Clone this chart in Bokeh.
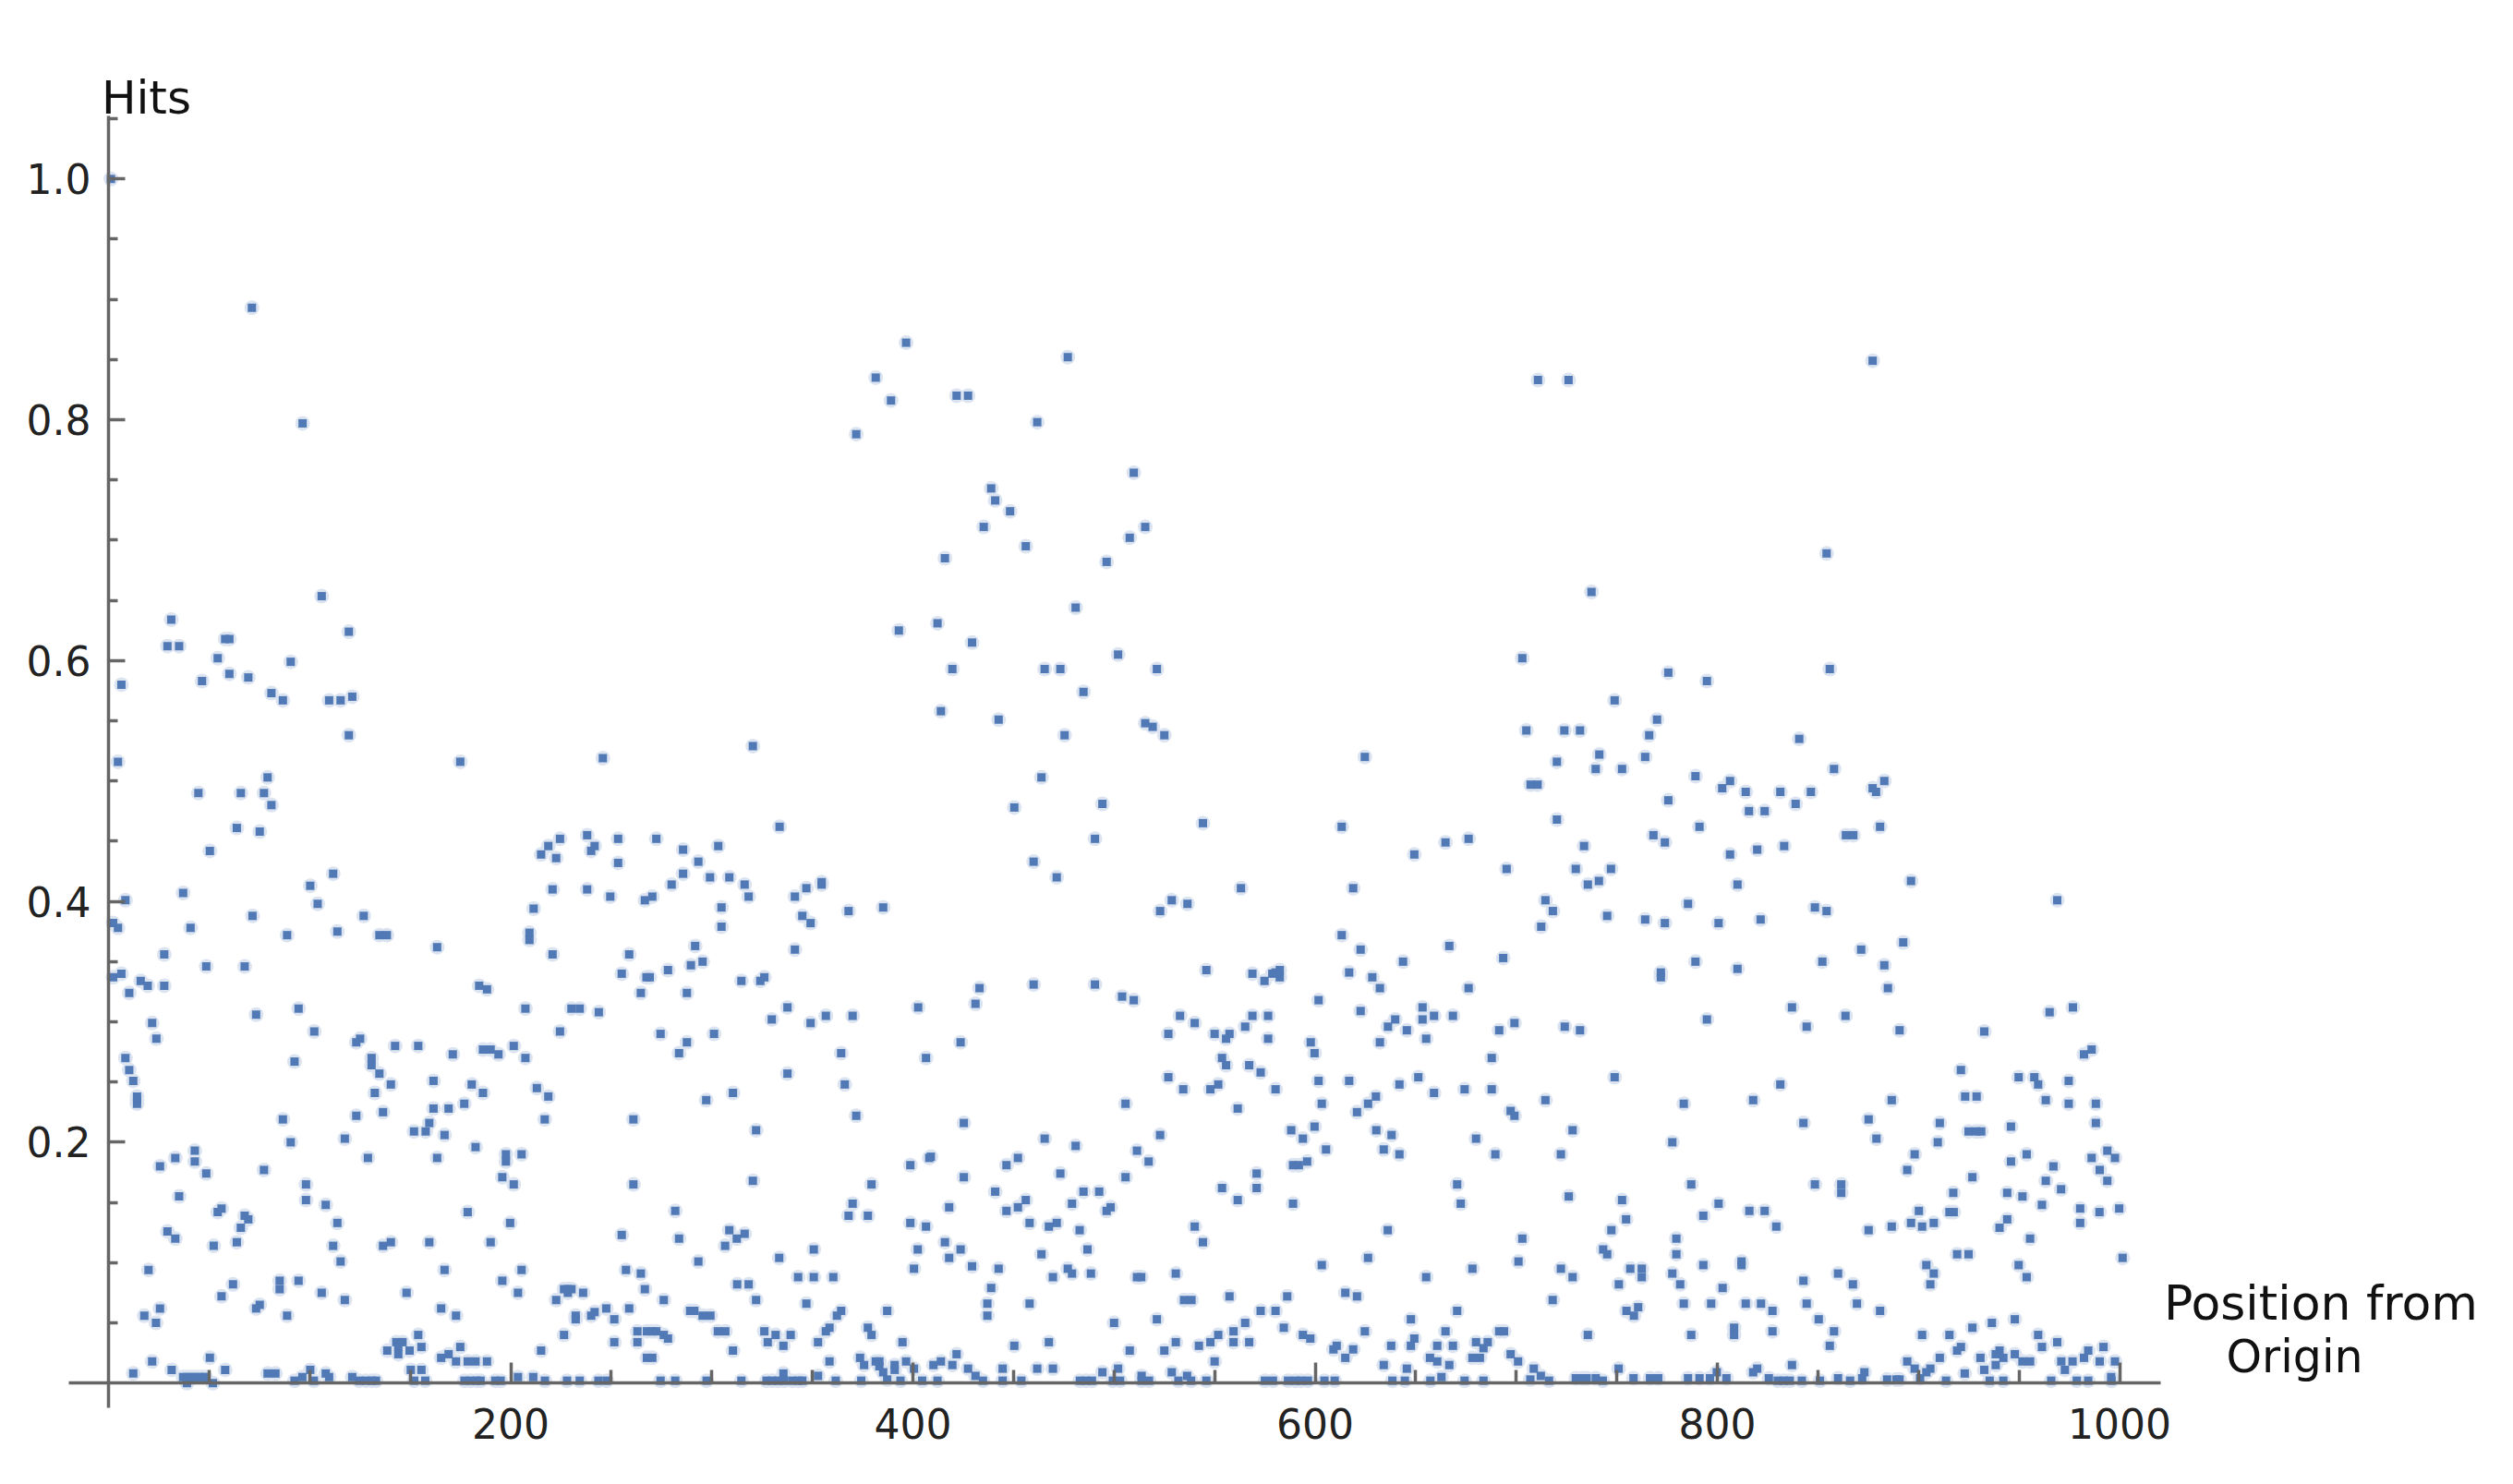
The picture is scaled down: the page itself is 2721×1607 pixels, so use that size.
from bokeh.plotting import figure
from bokeh.embed import file_html
from bokeh.resources import INLINE
from bokeh.models import FixedTicker, Label, ColumnDataSource

# (position, hits) pairs, by region of the chart
top_points = [(1.2,1.0),(71.3,.893),(96.5,.797),(396.6,.864),(381.5,.835),(389.1,.816),(371.8,.788),(421.7,.820),(427.4,.820),
(477,.852),(461.8,.798),(509.8,.756),(438.9,.743),(440.9,.733),(448.3,.724),(435.2,.711),(515.5,.711),(507.8,.702),(456.1,.695),
(415.9,.685),(496.3,.682),(480.9,.644),(412.2,.631),(393,.625),(429.4,.615),(502,.605),(419.6,.593),(465.5,.593),(473.3,.593),
(521.3,.593),(484.8,.574),(413.9,.558),(442.6,.551),(515.5,.548),(519.2,.545),(525,.538),(475.4,.538),(320.4,.529),(463.9,.503),
(450.4,.478),(494.2,.481),(333.7,.462),(544.2,.465),(710.8,.833),(726,.833),(877.2,.849),(854.3,.689),(737.4,.657),(703,.602),
(775.6,.590),(794.8,.583),(855.9,.593),(748.9,.567),(770,.551),(766.1,.538),(705,.542),(723.9,.542),(731.7,.542),(840.7,.535),
(624.7,.520),(741.3,.522),(720.2,.516),(739.5,.510),(752.6,.510),(764.1,.520),(789.1,.504),(858,.510),(806.3,.500),(802.4,.494),
(814.1,.491),(831.3,.491),(846.5,.491),(707.1,.497),(710.6,.497),(775.6,.484),(838.9,.481),(815.7,.475),(823.5,.475),(883,.500),
(877.2,.494),(878.9,.491),(720.2,.468),(613.2,.462),(791.1,.462),(880.9,.462)]

left_upper = [(106,.6535),(31.2,.634),(29.3,.612),(35.1,.612),(58,.618),(60.1,.618),(54.3,.602),(90.6,.599),(119.5,.624),(6.4,.580),
(60.1,.589),(69.5,.586),(46.5,.583),(81,.573),(86.7,.567),(109.7,.567),(115.4,.567),(121.2,.570),(119.5,.538),(4.7,.516),(174.9,.516),
(245.8,.519),(79.1,.503),(44.7,.490),(65.8,.490),(77.3,.490),(81,.480),(63.8,.461),(75.2,.458),(50.4,.442),(224.5,.452),(218.7,.446),
(215.1,.439),(222.6,.436),(238,.455),(241.7,.446),(240,.442),(253.4,.452),(253.4,.432),(111.7,.423),(100.3,.413),(104,.398),(220.8,.410),
(238,.410),(249.5,.404),(266.7,.401),(211.4,.394),(37.1,.407),(8.4,.401),(2.3,.382),(4.7,.378),(71.6,.388),(126.9,.388),(40.8,.378),
(88.8,.372),(113.8,.375),(134.7,.372),(138.4,.372),(209.3,.374),(209.3,.368),(163.4,.362),(27.7,.356),(220.8,.356),(258.9,.356),(48.6,.346),
(67.7,.346),(6.4,.340),(2.3,.337),(16,.334),(19.5,.330),(27.7,.330),(10.3,.324),(255.2,.340),(267.5,.337),(264.7,.324),(184.3,.330),
(188.2,.327),(207.3,.311),(230.2,.311),(234.3,.311),(243.8,.308),(94.5,.311),(73.4,.306)]

left_lower = [(21.7,.299),(23.8,.286),(102.3,.292),(125.1,.286),(123.2,.283),(142.5,.280),(154,.280),(171.2,.273),(186.2,.277),(190,.277),
(193.9,.273),(201.5,.280),(207.3,.270),(224.5,.292),(8.4,.270),(10.3,.260),(12.3,.251),(14.2,.238),(14.2,.232),(14.2,.235),(92.5,.267),
(130.8,.270),(130.8,.264),(134.7,.257),(140.4,.248),(161.6,.251),(180.6,.248),(186.2,.241),(132.4,.241),(213,.245),(218.7,.238),(161.6,.228),
(169.1,.228),(176.9,.232),(136.5,.225),(123.2,.222),(86.7,.219),(216.9,.219),(261,.219),(159.5,.216),(151.9,.209),(157.7,.209),(167.1,.206),
(117.5,.203),(90.6,.200),(182.5,.196),(197.6,.190),(197.6,.184),(205.4,.190),(42.9,.193),(42.9,.184),(33.2,.187),(25.6,.180),(48.6,.174),
(77.3,.177),(129,.187),(163.4,.187),(195.8,.171),(201.5,.165),(98.2,.165),(261,.165),(35.1,.155),(98.2,.152),(108,.148),(56.2,.145),(54.3,.142),
(67.7,.139),(69.5,.136),(65.8,.129),(113.8,.133),(178.6,.142),(199.7,.133),(29.3,.126),(33.2,.120),(52.3,.114),(63.8,.117),(111.7,.114),
(136.5,.114),(140.4,.117),(159.5,.117),(190,.117),(255.2,.123),(115.4,.101),(19.9,.094),(167.1,.094),(205.4,.094),(257.3,.094),(264.7,.091),
(195.8,.085),(94.5,.085),(85.1,.085),(85.1,.078),(61.9,.082),(56.2,.072),(106,.075),(117.5,.069),(148.2,.075),(203.6,.075),(228.4,.078),
(228.4,.075),(226.5,.078),(230.2,.078),(236,.075),(222.6,.069),(266.7,.078),(75.2,.065),(73.4,.062),(25.6,.062),(17.8,.056),(23.6,.050),
(88.8,.056),(165.4,.062),(172.8,.056),(232.3,.056),(232.3,.053),(241.7,.059),(240,.056),(247.5,.062),(258.9,.062),(251.5,.053),(263,.043),
(267.7,.043),(226.5,.040),(154,.040),(251.5,.034),(263,.034),(215.1,.027),(143.1,.034),(146.2,.034),(144.1,.030),(155.6,.030),(138.6,.027),
(144.1,.024),(149.7,.027),(174.9,.030),(169.1,.024),(165.4,.021),(172.8,.018),(178.6,.018),(182.5,.018),(188.2,.018),(50.4,.021),(21.7,.018),
(31.4,.011),(58,.011),(12.3,.008),(79.1,.008),(83,.008),(100.3,.011),(108,.008),(150.3,.011),(155.6,.011),(267.7,.021),
(37.1,.005),(39,.005),(41,.005),(43,.005),(45,.005),(47,.005),(48.2,.005),(51.9,0),(39,0),(92.5,.002),(96.4,.005),(102.1,.002),(109.7,.005),
(121.2,.005),(124.7,.002),(128,.002),(131,.002),(133,.002),(152,.002),(157.5,.002),(177,.002),(180,.002),(183,.002),(185,.002),(192.3,.002),
(195,.002),(203.6,.005),(211.2,.005),(217,.002),(228,.002),(234.3,.002),(243.6,.002),(247.7,.002)]

mid_upper = [(272.4,.452),(285.7,.443),(303.2,.446),(293.3,.433),(285.7,.423),(280,.414),(270.4,.404),(299.1,.420),(308.7,.420),(316.3,.414),
(318.3,.404),(304.8,.395),(304.8,.379),(341.3,.404),(347,.411),(354.6,.414),(354.6,.416),(345,.388),(349.1,.382),(368,.392),(385.2,.395),
(460,.433),(471.5,.420),(490.5,.452),(563.1,.411),(522.9,.392),(528.7,.401),(536.5,.398),(291.7,.363),(341.3,.360),(295.4,.350),(289.6,.347),
(278.2,.343),(269.1,.337),(314.7,.334),(326.1,.337),(324.1,.334),(287.6,.324),(433.1,.328),(431.1,.315),(460,.331),(490.5,.331),(545.9,.343),
(568.8,.340),(578.7,.340),(582.4,.343),(582.4,.337),(574.8,.334),(580.3,.341),(504,.321),(509.8,.318),(337.6,.312),(329.8,.302),(349.1,.299),
(356.7,.305),(370,.305),(402.6,.312),(532.8,.305),(540.1,.299),(568.8,.305),(576.6,.305),(565.2,.296),(274.5,.290),(287.6,.283),(301.1,.290),
(283.7,.274),(527,.290),(550,.290),(557.4,.290),(555.7,.286),(576.6,.286),(423.7,.283),(406.5,.270),(364.3,.274),(553.7,.270),(555.7,.264),
(567.2,.264),(572.9,.258),(337.6,.257),(366.1,.248),(527,.254),(534.4,.244),(547.9,.244),(551.8,.248),(580.3,.244),(310.5,.241),(297.2,.235),
(505.7,.232),(561.5,.228),(371.8,.222),(425.3,.216),(322,.210),(522.9,.206),(588.1,.210),(465.5,.203),(480.9,.197),(511.4,.193),(517.2,.184),
(452.2,.187),(446.5,.181),(408.1,.187),(408.9,.188),(398.7,.181),(425.3,.171),(473.3,.174),(505.7,.171),(570.9,.174),(570.9,.162),(553.7,.162),
(561.5,.152),(589,.181),(589,.149)]

mid_lower = [(320.4,.168),(379.4,.165),(440.9,.159),(484.8,.159),(492.6,.159),(370,.149),(456.1,.152),(452.2,.146),(446.5,.143),(418,.146),
(479.1,.149),(498.3,.146),(496.3,.143),(281.8,.143),(368,.139),(377.6,.139),(398.7,.133),(406.5,.130),(458,.133),(471.5,.133),(467.6,.130),
(482.9,.127),(540.1,.130),(544.2,.117),(308.7,.127),(316.3,.124),(312.4,.120),(283.7,.120),(306.6,.114),(415.9,.117),(402.4,.111),(423.7,.111),
(350.7,.111),(418,.104),(486.8,.111),(463.9,.107),(333.5,.104),(293.3,.101),(429.4,.097),(400.5,.095),(442.6,.095),(477,.095),(479.1,.091),
(488.5,.091),(469.6,.088),(530.7,.091),(511.4,.088),(513.5,.088),(342.9,.088),(350.7,.088),(360.4,.088),(312.6,.082),(318.3,.082),(438.9,.079),
(276.1,.069),(322,.069),(534.8,.069),(538.5,.069),(557.4,.072),(586.1,.072),(347,.066),(437,.066),(437,.056),(458,.066),(289.2,.060),(291.3,.060),
(295.4,.056),(299.3,.056),(364.3,.060),(362.2,.056),(387.2,.060),(572.9,.060),(580.3,.060),(521.3,.053),(500,.050),(565.2,.050),(584.4,.046),
(270.4,.043),(272.4,.043),(276.1,.040),(278.2,.037),(303,.043),(306.7,.043),(326.1,.043),(331.7,.040),(339.2,.040),(358.5,.046),(356.7,.043),
(377.6,.046),(379.4,.040),(559.4,.043),(551.8,.040),(327.8,.034),(335.6,.031),(352.8,.034),(394.8,.034),(450.4,.031),(467.6,.034),(530.7,.034),
(525,.027),(507.8,.027),(542.2,.031),(547.9,.034),(559.4,.034),(567.2,.034),(310.5,.027),(270.4,.021),(358.5,.018),(373.7,.021),(375.7,.015),
(381.5,.018),(383.3,.018),(396.6,.018),(390.9,.015),(390.9,.011),(383.3,.014),(385.2,.009),(421.7,.024),(413.9,.018),(410.2,.015),(419.6,.015),
(400.5,.012),(427.4,.012),(444.6,.012),(461.8,.012),(469.6,.012),(494.2,.009),(502,.012),(528.7,.009),(550,.018),(335.6,.008),(352.8,.006),
(431.1,.006),(513.7,.006),(536.3,.006),(274.5,.002),(281.8,.002),(297.4,.002),(314.7,.002),(327.2,.002),(330,.002),(333,.002),(336,.002),
(340,.002),(343,.002),(345,.002),(361.6,.002),(374.3,.002),(387.2,.003),(393.8,.002),(404.6,.002),(412.2,.002),(434.8,.002),(444.6,.002),
(453.9,.002),(483,.002),(486,.002),(489,.002),(499.4,.002),(503,.002),(513.7,.002),(517.4,.002),(532,.002),(538.3,.002),(545.9,.002),(575,.002),
(579,.002),(586.5,.002)]

right_upper = [(863.9,.455),(867.6,.455),(768.2,.455),(773.9,.449),(733.7,.446),(649.3,.439),(664.8,.449),(676.3,.452),(695.2,.427),(729.6,.427),
(747.1,.427),(741.1,.417),(735.6,.414),(806.3,.439),(819.8,.443),(833.2,.446),(810,.414),(896.3,.417),(618.9,.411),(714.5,.401),(718.2,.392),
(712.4,.379),(785.4,.398),(745.2,.388),(764.1,.385),(773.9,.382),(800.6,.382),(821.5,.385),(848.5,.395),(854.3,.392),(613.2,.372),(622.6,.360),
(666.7,.363),(693.5,.353),(643.7,.350),(616.9,.341),(628.4,.337),(632.2,.328),(676.3,.328),(789.1,.350),(771.9,.341),(771.9,.337),(810,.344),
(852.2,.350),(871.5,.360),(892.4,.366),(883,.347),(884.8,.328),(601.7,.318),(622.6,.309),(653.4,.312),(653.4,.302),(659.1,.305),(668.5,.305),
(639.8,.302),(636.2,.296),(645.6,.293),(655.2,.286),(632.2,.283),(597.8,.283),(599.7,.274),(691.5,.293),(699.1,.299),(687.8,.270),(724.1,.296),
(731.7,.293),(794.8,.302),(837.1,.312),(844.4,.296),(863.7,.305),(890.6,.293),(601.7,.251),(616.9,.251),(641.9,.248),(651.3,.254),(659.1,.241),
(674.3,.244),(687.8,.244),(748.9,.254),(831.3,.248),(630.2,.238),(626.3,.232),(620.8,.225),(603.3,.232),(714.5,.235),(697.2,.226),(699.1,.222),
(783.3,.232),(817.8,.235),(886.7,.235),(599.7,.213),(593.9,.203),(630.4,.210),(638,.206),(842.8,.216),(875.2,.219),(728,.210),(680,.203),
(879.1,.203),(605.4,.194),(634.1,.194),(641.9,.190),(689.6,.190),(722.2,.190),(777.6,.200),(898.1,.190),(894.4,.177),(909.6,.200),(910.6,.216),
(596,.184),(591.9,.181)]

right_lower = [(670.6,.165),(672.4,.149),(726.1,.155),(752.6,.152),(754.6,.136),(747.3,.127),(787,.165),(800.6,.149),(793,.139),(815.9,.143),
(823.5,.143),(829.3,.130),(848.5,.165),(861.6,.165),(861.6,.158),(900.2,.143),(896.3,.133),(901.8,.130),(907.6,.133),(875.2,.127),(886.7,.130),
(636.1,.127),(703,.120),(779.6,.120),(779.6,.107),(743.2,.111),(745.2,.107),(626.3,.104),(603.3,.098),(701.1,.101),(678.2,.095),(722.2,.095),
(728,.088),(756.7,.095),(762.4,.095),(762.4,.088),(793,.098),(812,.101),(812,.098),(777.6,.091),(781.5,.082),(842.8,.085),(860,.091),(867.4,.082),
(903.9,.098),(907.6,.091),(905.9,.082),(655.2,.088),(751,.082),(802.6,.079),(615,.075),(620.8,.072),(718.1,.069),(783.3,.066),(796.9,.066),
(814.1,.066),(821.7,.066),(844.4,.066),(869.4,.066),(827.4,.060),(880.9,.060),(850.4,.053),(670.6,.060),(647.6,.053),(760.6,.063),(754.8,.060),
(758.5,.056),(624.7,.043),(664.8,.043),(691.5,.043),(693.9,.043),(808.3,.046),(808.3,.040),(827.4,.043),(858,.043),(735.6,.040),(787,.040),
(901.8,.040),(593.9,.040),(597.6,.037),(610.7,.031),(609.1,.028),(618.9,.028),(615,.021),(637.8,.031),(649.3,.037),(647.6,.031),(660.7,.031),
(668.5,.031),(680,.034),(685.8,.034),(683.7,.029),(678.2,.021),(681.9,.021),(657.1,.021),(660.7,.018),(697.2,.024),(700.9,.018),(855.9,.031),
(894.4,.018),(910.6,.021),(634.1,.015),(645.6,.012),(666.7,.015),(837.1,.015),(708.7,.012),(750.9,.012),(819.8,.012),(817.8,.009),(898.1,.012),
(905.9,.012),(903.9,.009),(873.1,.009),(799.7,.009),(712.2,.006),(707,.003),(590.2,.002),(593,.002),(596.4,.002),(604.6,.002),(609.7,.002),
(638.4,.002),(644.6,.002),(657.3,.002),(662.8,.005),(674.3,.002),(683.7,.002),(716.3,.002),(729.6,.004),(733,.004),(735,.004),(739.5,.004),
(743,.002),(758.3,.004),(766.5,.004),(770.6,.004),(785.4,.004),(791.1,.004),(796.3,.004),(804.5,.004),(825.6,.004),(830,.002),(833,.002),
(836,.002),(842,.002),(851,.002),(860,.004),(866,.002),(872,.004),(884.4,.003),(889,.003),(890.6,.003),(900.8,.004)]

far_right = [(969,.401),(976.8,.312),(965.2,.308),(932.7,.292),(921.1,.260),(949.8,.254),(957.6,.254),(959.5,.248),(974.7,.251),(982.3,.273),
(986.1,.277),(923.2,.238),(928.9,.238),(963.3,.235),(974.7,.232),(988.2,.232),(988.2,.216),(946,.213),(924.9,.209),(928.7,.209),(931.2,.209),
(993.9,.193),(997.7,.187),(986.1,.187),(990.1,.177),(993.9,.168),(953.8,.190),(946,.184),(967.1,.180),(926.8,.171),(963.3,.168),(970.9,.161),
(917.3,.158),(944.1,.158),(951.7,.155),(961.4,.148),(980.4,.145),(999.8,.145),(990,.142),(915.4,.142),(917.5,.142),(944.1,.136),(940.3,.129),
(980.4,.133),(955.5,.120),(919.2,.107),(924.9,.107),(1001.5,.104),(949.8,.098),(953.8,.088),(926.8,.046),(936.5,.050),(947.9,.053),(915.4,.040),
(959.5,.040),(969,.034),(921.1,.030),(919.2,.027),(961.4,.030),(992,.030),(940.3,.027),(938.4,.024),(942.2,.021),(947.9,.024),(984.4,.027),
(982.3,.021),(930.8,.021),(938.4,.015),(951.7,.018),(955.5,.018),(971,.018),(976.6,.018),(972.8,.011),(990.1,.018),(997.7,.018),(932.7,.011),
(923,.008),(995.8,.005),(913.7,.002),(935.4,.002),(942.2,.002),(966,.002),(978.7,.002),(984.4,.002),(996,.002)]

x_major = [200, 400, 600, 800, 1000]
x_minor = [50, 100, 150, 250, 300, 350, 450, 500, 550, 650, 700, 750, 850, 900, 950]
y_major = [0.2, 0.4, 0.6, 0.8, 1.0]
y_minor = [0.05, 0.1, 0.15, 0.25, 0.3, 0.35, 0.45, 0.5, 0.55, 0.65, 0.7, 0.75, 0.85, 0.9, 0.95, 1.05]
x_title_lines = ["Position from", "Origin"]
y_title = "Hits"

points = top_points + left_upper + left_lower + mid_upper + mid_lower + right_upper + right_lower + far_right
src = ColumnDataSource(dict(x=[a for a, b in points], y=[b for a, b in points]))

FONT = "DejaVu Sans"
AXIS = "#666666"
p = figure(width=2705, height=1591, min_border=0, toolbar_location=None, output_backend="svg",
           x_range=(-53.73, 1188.5), y_range=(-0.0719, 1.1482), background_fill_color="white",
           border_fill_color="white")
p.outline_line_color = None
p.grid.visible = False

p.scatter("x", "y", source=src, marker="circle", size=16, fill_color="#dbe4f0", line_color=None)
p.scatter("x", "y", source=src, marker="square", size=9, fill_color="#5079b5", line_color=None)

for ax, maj, mnr, mlen, nlen, off, bnd in ((p.xaxis[0], x_major, x_minor, 22, 14, 27, (-19.7, 1020.4)),
                                           (p.yaxis[0], y_major, y_minor, 18, 10, 19, (-0.0205, 1.0524))):
    ax.ticker = FixedTicker(ticks=maj, minor_ticks=mnr)
    ax.fixed_location = 0
    ax.bounds = bnd
    ax.axis_line_color = AXIS
    ax.axis_line_width = 3.5
    ax.major_tick_line_color = AXIS
    ax.minor_tick_line_color = AXIS
    ax.major_tick_line_width = 3.5
    ax.minor_tick_line_width = 3.5
    ax.major_tick_in = mlen
    ax.major_tick_out = 0
    ax.minor_tick_in = nlen
    ax.minor_tick_out = 0
    ax.major_label_text_font = FONT
    ax.major_label_text_font_size = "44px"
    ax.major_label_text_color = "#222222"
    ax.major_label_standoff = off
p.yaxis[0].major_label_overrides = {v: f"{v:.1f}" for v in y_major}

style = dict(text_font=FONT, text_color="#111111", text_baseline="alphabetic")
p.add_layout(Label(x=-3.5, y=1.0670, text=y_title, text_font_size="50px", **style))
p.add_layout(Label(x=1022, y=.0669, text=x_title_lines[0], text_font_size="52px", **style))
p.add_layout(Label(x=1053, y=.0217, text=x_title_lines[1], text_font_size="49px", **style))

open("out.html", "w").write(file_html(p, INLINE))
